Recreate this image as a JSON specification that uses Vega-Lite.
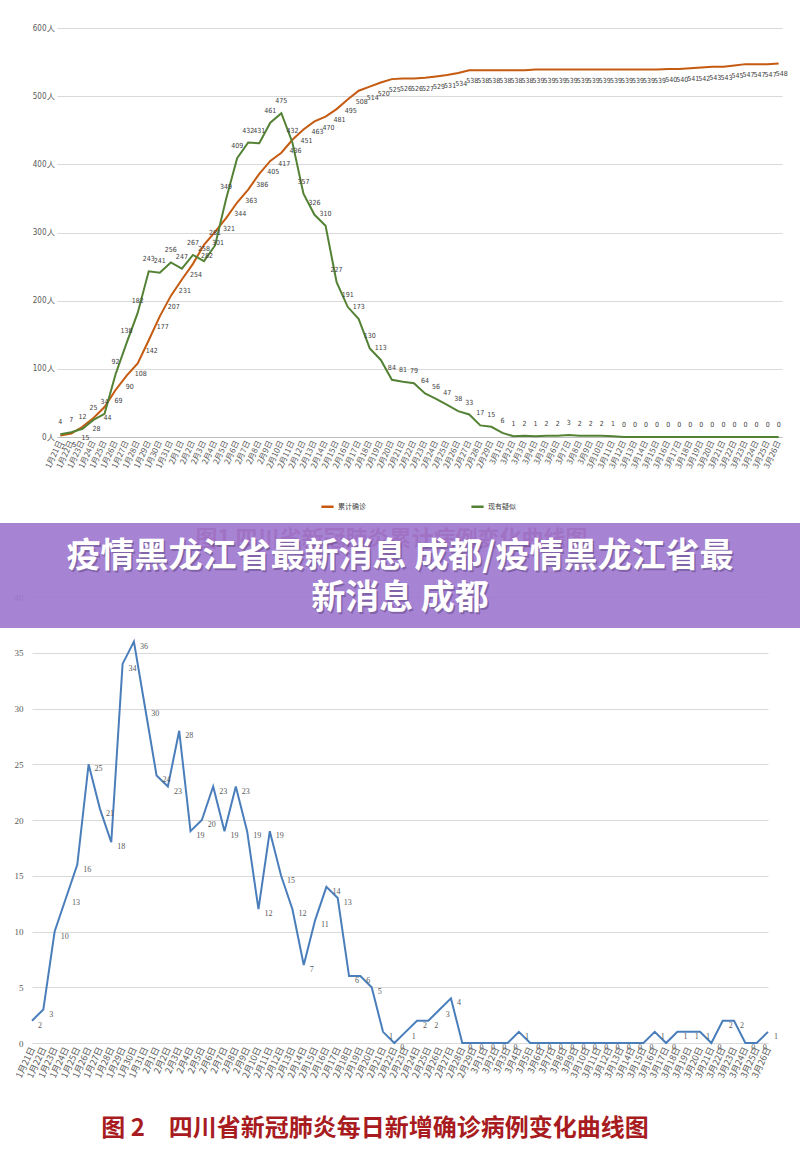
{
  "$schema": "https://vega.github.io/schema/vega-lite/v6.json",
  "padding": {"left": 0, "right": 0, "top": 24, "bottom": 0},
  "autosize": {"type": "pad"},
  "config": {"view": {"stroke": null}, "font": "Noto Sans CJK SC"},
  "datasets": {
    "main": [
      {"d": "1月21日", "confirmed": 2, "suspected": 4, "daily": 2},
      {"d": "1月22日", "confirmed": 5, "suspected": 7, "daily": 3},
      {"d": "1月23日", "confirmed": 15, "suspected": 12, "daily": 10},
      {"d": "1月24日", "confirmed": 28, "suspected": 25, "daily": 13},
      {"d": "1月25日", "confirmed": 44, "suspected": 34, "daily": 16},
      {"d": "1月26日", "confirmed": 69, "suspected": 92, "daily": 25},
      {"d": "1月27日", "confirmed": 90, "suspected": 138, "daily": 21},
      {"d": "1月28日", "confirmed": 108, "suspected": 182, "daily": 18},
      {"d": "1月29日", "confirmed": 142, "suspected": 243, "daily": 34},
      {"d": "1月30日", "confirmed": 177, "suspected": 241, "daily": 36},
      {"d": "1月31日", "confirmed": 207, "suspected": 256, "daily": 30},
      {"d": "2月1日", "confirmed": 231, "suspected": 247, "daily": 24},
      {"d": "2月2日", "confirmed": 254, "suspected": 267, "daily": 23},
      {"d": "2月3日", "confirmed": 282, "suspected": 258, "daily": 28},
      {"d": "2月4日", "confirmed": 301, "suspected": 281, "daily": 19},
      {"d": "2月5日", "confirmed": 321, "suspected": 349, "daily": 20},
      {"d": "2月6日", "confirmed": 344, "suspected": 409, "daily": 23},
      {"d": "2月7日", "confirmed": 363, "suspected": 432, "daily": 19},
      {"d": "2月8日", "confirmed": 386, "suspected": 431, "daily": 23},
      {"d": "2月9日", "confirmed": 405, "suspected": 461, "daily": 19},
      {"d": "2月10日", "confirmed": 417, "suspected": 475, "daily": 12},
      {"d": "2月11日", "confirmed": 436, "suspected": 432, "daily": 19},
      {"d": "2月12日", "confirmed": 451, "suspected": 357, "daily": 15},
      {"d": "2月13日", "confirmed": 463, "suspected": 326, "daily": 12},
      {"d": "2月14日", "confirmed": 470, "suspected": 310, "daily": 7},
      {"d": "2月15日", "confirmed": 481, "suspected": 227, "daily": 11},
      {"d": "2月16日", "confirmed": 495, "suspected": 191, "daily": 14},
      {"d": "2月17日", "confirmed": 508, "suspected": 173, "daily": 13},
      {"d": "2月18日", "confirmed": 514, "suspected": 130, "daily": 6},
      {"d": "2月19日", "confirmed": 520, "suspected": 113, "daily": 6},
      {"d": "2月20日", "confirmed": 525, "suspected": 84, "daily": 5},
      {"d": "2月21日", "confirmed": 526, "suspected": 81, "daily": 1},
      {"d": "2月22日", "confirmed": 526, "suspected": 79, "daily": 0},
      {"d": "2月23日", "confirmed": 527, "suspected": 64, "daily": 1},
      {"d": "2月24日", "confirmed": 529, "suspected": 56, "daily": 2},
      {"d": "2月25日", "confirmed": 531, "suspected": 47, "daily": 2},
      {"d": "2月26日", "confirmed": 534, "suspected": 38, "daily": 3},
      {"d": "2月27日", "confirmed": 538, "suspected": 33, "daily": 4},
      {"d": "2月28日", "confirmed": 538, "suspected": 17, "daily": 0},
      {"d": "2月29日", "confirmed": 538, "suspected": 15, "daily": 0},
      {"d": "3月1日", "confirmed": 538, "suspected": 6, "daily": 0},
      {"d": "3月2日", "confirmed": 538, "suspected": 1, "daily": 0},
      {"d": "3月3日", "confirmed": 538, "suspected": 2, "daily": 0},
      {"d": "3月4日", "confirmed": 539, "suspected": 1, "daily": 1},
      {"d": "3月5日", "confirmed": 539, "suspected": 2, "daily": 0},
      {"d": "3月6日", "confirmed": 539, "suspected": 2, "daily": 0},
      {"d": "3月7日", "confirmed": 539, "suspected": 3, "daily": 0},
      {"d": "3月8日", "confirmed": 539, "suspected": 2, "daily": 0},
      {"d": "3月9日", "confirmed": 539, "suspected": 2, "daily": 0},
      {"d": "3月10日", "confirmed": 539, "suspected": 2, "daily": 0},
      {"d": "3月11日", "confirmed": 539, "suspected": 1, "daily": 0},
      {"d": "3月12日", "confirmed": 539, "suspected": 0, "daily": 0},
      {"d": "3月13日", "confirmed": 539, "suspected": 0, "daily": 0},
      {"d": "3月14日", "confirmed": 539, "suspected": 0, "daily": 0},
      {"d": "3月15日", "confirmed": 539, "suspected": 0, "daily": 0},
      {"d": "3月16日", "confirmed": 540, "suspected": 0, "daily": 1},
      {"d": "3月17日", "confirmed": 540, "suspected": 0, "daily": 0},
      {"d": "3月18日", "confirmed": 541, "suspected": 0, "daily": 1},
      {"d": "3月19日", "confirmed": 542, "suspected": 0, "daily": 1},
      {"d": "3月20日", "confirmed": 543, "suspected": 0, "daily": 1},
      {"d": "3月21日", "confirmed": 543, "suspected": 0, "daily": 0},
      {"d": "3月22日", "confirmed": 545, "suspected": 0, "daily": 2},
      {"d": "3月23日", "confirmed": 547, "suspected": 0, "daily": 2},
      {"d": "3月24日", "confirmed": 547, "suspected": 0, "daily": 0},
      {"d": "3月25日", "confirmed": 547, "suspected": 0, "daily": 0},
      {"d": "3月26日", "confirmed": 548, "suspected": 0, "daily": 1}
    ],
    "banner": [
      {"row": 1, "line": "疫情黑龙江省最新消息 成都/疫情黑龙江省最"},
      {"row": 2, "line": "新消息 成都"}
    ]
  },
  "vconcat": [
    {
      "width": 725,
      "height": 409,
      "data": {"name": "main"},
      "title": {
        "text": "图1  四川省新冠肺炎累计病例变化曲线图",
        "orient": "bottom",
        "fontSize": 22,
        "fontWeight": "bold",
        "color": "#a3262a",
        "offset": 60,
        "dx": -28
      },
      "encoding": {
        "x": {
          "field": "d",
          "type": "ordinal",
          "sort": null,
          "scale": {"type": "point", "padding": 0.3},
          "axis": {
            "title": null,
            "labelAngle": -65,
            "labelFontSize": 8,
            "labelColor": "#595959",
            "ticks": false,
            "domainColor": "#bfbfbf",
            "labelPadding": 4,
            "grid": false,
            "labelOverlap": false
          }
        }
      },
      "layer": [
        {
          "transform": [{"fold": ["confirmed", "suspected"], "as": ["series", "value"]}],
          "mark": {"type": "line", "strokeWidth": 2},
          "encoding": {
            "y": {
              "field": "value",
              "type": "quantitative",
              "scale": {"domain": [0, 600]},
              "axis": {
                "title": null,
                "values": [0, 100, 200, 300, 400, 500, 600],
                "labelExpr": "datum.value + '人'",
                "domain": false,
                "ticks": false,
                "labelFont": "DejaVu Sans Condensed",
                "labelFontSize": 8,
                "labelColor": "#595959",
                "labelPadding": 3,
                "gridColor": "#d9d9d9",
                "minExtent": 57
              }
            },
            "color": {
              "field": "series",
              "type": "nominal",
              "scale": {"domain": ["confirmed", "suspected"], "range": ["#c55a11", "#548235"]},
              "legend": {
                "orient": "none",
                "legendX": 263,
                "legendY": 471,
                "direction": "horizontal",
                "title": null,
                "symbolType": "stroke",
                "symbolStrokeWidth": 2.5,
                "symbolSize": 150,
                "labelFontSize": 7,
                "labelColor": "#404040",
                "labelOffset": 3,
                "columnPadding": 100,
                "labelExpr": "datum.label == 'confirmed' ? '累计确诊' : '现有疑似'"
              }
            }
          }
        },
        {
          "mark": {"type": "text", "fontSize": 7, "dx": 3, "dy": 11, "color": "#404040", "font": "DejaVu Sans Condensed"},
          "encoding": {
            "y": {"field": "confirmed", "type": "quantitative"},
            "text": {"field": "confirmed", "type": "quantitative"}
          }
        },
        {
          "mark": {"type": "text", "fontSize": 7, "dy": -12, "color": "#404040", "font": "DejaVu Sans Condensed"},
          "encoding": {
            "y": {"field": "suspected", "type": "quantitative"},
            "text": {"field": "suspected", "type": "quantitative"}
          }
        }
      ]
    },
    {
      "width": 716,
      "height": 446,
      "title": {
        "text": "图 2　四川省新冠肺炎每日新增确诊病例变化曲线图",
        "orient": "bottom",
        "fontSize": 24,
        "fontWeight": "bold",
        "color": "#a81c1f",
        "offset": 38,
        "dx": -40
      },
      "resolve": {"scale": {"x": "independent", "y": "independent"}, "axis": {"x": "independent", "y": "independent"}},
      "layer": [
        {
          "data": {"name": "main"},
          "encoding": {
            "x": {
              "field": "d",
              "type": "ordinal",
              "sort": null,
              "scale": {"type": "point", "padding": 0, "range": [-25, 711]},
              "axis": {
                "title": null,
                "labelAngle": -65,
                "labelFontSize": 9,
                "labelColor": "#595959",
                "ticks": false,
                "domainColor": "#d9d9d9",
                "labelPadding": 4,
                "grid": false,
                "labelOverlap": false
              }
            },
            "y": {
              "field": "daily",
              "type": "quantitative",
              "scale": {"domain": [0, 40]},
              "axis": {
                "title": null,
                "values": [0, 5, 10, 15, 20, 25, 30, 35, 40],
                "domain": false,
                "ticks": false,
                "offset": 30,
                "labelFont": "Liberation Serif",
                "labelFontSize": 9,
                "labelColor": "#595959",
                "labelPadding": 4,
                "gridColor": "#d9d9d9"
              }
            }
          },
          "layer": [
            {"mark": {"type": "line", "color": "#4a7ebb", "strokeWidth": 2}},
            {
              "mark": {"type": "text", "font": "Liberation Serif", "fontSize": 8, "color": "#595959", "dx": 6, "dy": 5, "align": "left"},
              "encoding": {"text": {"field": "daily", "type": "quantitative"}}
            }
          ]
        },
        {
          "data": {"values": [{}]},
          "mark": {"type": "rect", "color": "#a078d0", "opacity": 0.92},
          "encoding": {
            "x": {"datum": 0, "type": "quantitative", "scale": {"domain": [0, 1], "range": [-57, 743]}, "axis": null},
            "x2": {"datum": 1},
            "y": {"datum": 0, "type": "quantitative", "scale": {"domain": [0, 1], "range": [-74, 31]}, "axis": null},
            "y2": {"datum": 1}
          }
        },
        {
          "data": {"name": "banner"},
          "mark": {"type": "text", "fontSize": 34, "fontWeight": "bold", "color": "#3b2a55", "opacity": 0.35, "dx": 1.5, "dy": 1.5, "font": "Noto Sans CJK SC"},
          "encoding": {
            "x": {"datum": 0.5, "type": "quantitative", "scale": {"domain": [0, 1], "range": [-57, 743]}, "axis": null},
            "y": {"field": "row", "type": "ordinal", "scale": {"type": "point", "padding": 0, "range": [-40, 2]}, "axis": null},
            "text": {"field": "line", "type": "nominal"}
          }
        },
        {
          "data": {"name": "banner"},
          "mark": {"type": "text", "fontSize": 34, "fontWeight": "bold", "color": "#ffffff", "font": "Noto Sans CJK SC"},
          "encoding": {
            "x": {"datum": 0.5, "type": "quantitative", "scale": {"domain": [0, 1], "range": [-57, 743]}, "axis": null},
            "y": {"field": "row", "type": "ordinal", "scale": {"type": "point", "padding": 0, "range": [-40, 2]}, "axis": null},
            "text": {"field": "line", "type": "nominal"}
          }
        }
      ]
    }
  ],
  "spacing": -28
}
